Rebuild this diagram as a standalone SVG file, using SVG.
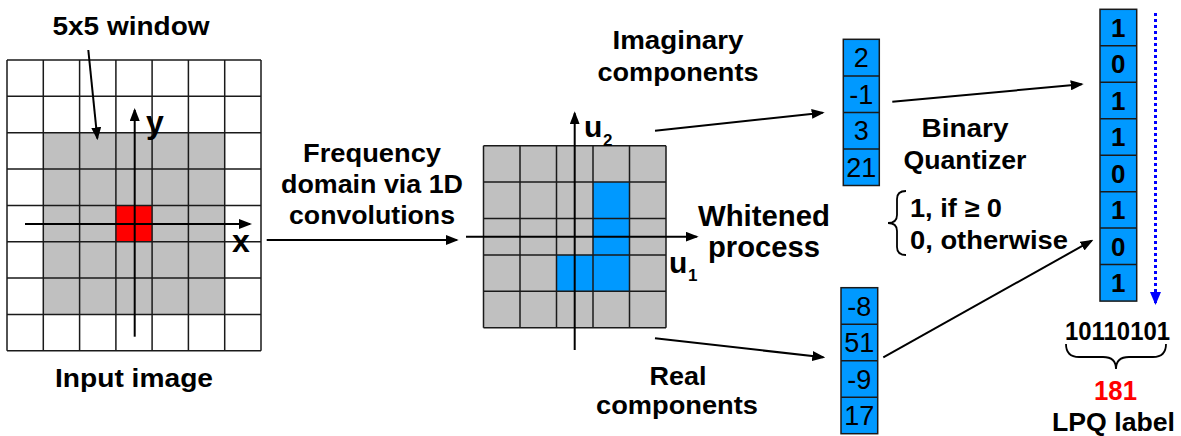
<svg xmlns="http://www.w3.org/2000/svg" width="1181" height="436" viewBox="0 0 1181 436">
<defs>
<style>
text{font-family:"Liberation Sans",Arial,sans-serif;fill:#000}
.b{font-weight:bold;font-size:26px;text-anchor:middle}
.bl{font-weight:bold;font-size:26px}
.big{font-weight:bold;font-size:29px;text-anchor:middle}
.ax{font-weight:bold;font-size:32px}
.num{font-size:27px;text-anchor:middle}
.bin{font-weight:bold;font-size:26px;text-anchor:middle}
.grid{fill:none;stroke:#1a1a1a;stroke-width:1.5}
.cell{fill:#0099FF;stroke:#1a1a1a;stroke-width:1.5}
.conn{fill:none;stroke:#000;stroke-width:2}
</style>
<marker id="ah" markerUnits="userSpaceOnUse" markerWidth="13" markerHeight="10" refX="11" refY="5" orient="auto">
<path d="M0,0 L13,5 L0,10 z" fill="#000"/>
</marker>
<marker id="ahb" markerUnits="userSpaceOnUse" markerWidth="13" markerHeight="11" refX="11" refY="5.5" orient="auto">
<path d="M0,0 L13,5.5 L0,11 z" fill="#0000FF"/>
</marker>
</defs>
<rect width="1181" height="436" fill="#fff"/>

<g id="input-image">
<rect x="7" y="60" width="254" height="290.7" fill="#fff"/>
<rect x="43.3" y="132.7" width="181.4" height="181.7" fill="#C0C0C0"/>
<rect x="115.9" y="205.4" width="36.2" height="36.3" fill="#FF0000"/>
<path class="grid" d="M7,60V350.7 M43.3,60V350.7 M79.6,60V350.7 M115.9,60V350.7 M152.1,60V350.7 M188.4,60V350.7 M224.7,60V350.7 M261,60V350.7 M7,60H261 M7,96.3H261 M7,132.7H261 M7,169H261 M7,205.4H261 M7,241.7H261 M7,278H261 M7,314.4H261 M7,350.7H261"/>
<text class="ax" x="146" y="133">y</text>
<text class="ax" x="232" y="252">x</text>
<text class="b" x="131" y="35" textLength="157" lengthAdjust="spacingAndGlyphs">5x5 window</text>
<text class="b" x="134" y="387" textLength="158" lengthAdjust="spacingAndGlyphs">Input image</text>
</g>

<g id="frequency-grid">
<rect x="483.5" y="145.7" width="182.5" height="182" fill="#C0C0C0"/>
<rect x="593" y="182.1" width="36.5" height="109.2" fill="#0099FF"/>
<rect x="556.5" y="254.9" width="36.5" height="36.4" fill="#0099FF"/>
<path class="grid" d="M483.5,145.7V327.7 M520,145.7V327.7 M556.5,145.7V327.7 M593,145.7V327.7 M629.5,145.7V327.7 M666,145.7V327.7 M483.5,145.7H666 M483.5,182.1H666 M483.5,218.5H666 M483.5,254.9H666 M483.5,291.3H666 M483.5,327.7H666"/>
<text class="ax" x="584" y="137" style="font-size:30px">u</text>
<text class="bl" x="603" y="146" style="font-size:17px">2</text>
<text class="ax" x="669" y="273" style="font-size:30px">u</text>
<text class="bl" x="688" y="281" style="font-size:17px">1</text>
</g>

<g id="freq-label">
<text class="b" x="372" y="162" textLength="138" lengthAdjust="spacingAndGlyphs">Frequency</text>
<text class="b" x="372" y="193" textLength="182" lengthAdjust="spacingAndGlyphs">domain via 1D</text>
<text class="b" x="372" y="223.5" textLength="166" lengthAdjust="spacingAndGlyphs">convolutions</text>
</g>

<g id="whitened-label">
<text class="big" x="764" y="226" textLength="132" lengthAdjust="spacingAndGlyphs">Whitened</text>
<text class="big" x="764" y="257" textLength="112" lengthAdjust="spacingAndGlyphs">process</text>
</g>

<g id="imag-label">
<text class="b" x="678" y="49" textLength="131" lengthAdjust="spacingAndGlyphs">Imaginary</text>
<text class="b" x="678" y="81" textLength="161" lengthAdjust="spacingAndGlyphs">components</text>
</g>

<g id="real-label">
<text class="b" x="678" y="385" textLength="57" lengthAdjust="spacingAndGlyphs">Real</text>
<text class="b" x="677" y="414" textLength="162" lengthAdjust="spacingAndGlyphs">components</text>
</g>

<g id="imag-column">
<rect class="cell" x="843.3" y="39.3" width="36" height="146.2"/>
<path class="grid" d="M843.3,76H879.3 M843.3,112.5H879.3 M843.3,149H879.3"/>
<text class="num" x="861.3" y="67">2</text>
<text class="num" x="861.3" y="103.5">-1</text>
<text class="num" x="861.3" y="140">3</text>
<text class="num" x="861.3" y="176.5">21</text>
</g>

<g id="real-column">
<rect class="cell" x="841" y="287.7" width="36.7" height="146"/>
<path class="grid" d="M841,324.2H877.7 M841,360.7H877.7 M841,397.2H877.7"/>
<text class="num" x="859.3" y="315.5">-8</text>
<text class="num" x="859.3" y="352">51</text>
<text class="num" x="859.3" y="388.5">-9</text>
<text class="num" x="859.3" y="425">17</text>
</g>

<g id="quantizer">
<text class="b" x="965" y="137" textLength="87" lengthAdjust="spacingAndGlyphs">Binary</text>
<text class="b" x="965" y="168.5" textLength="123" lengthAdjust="spacingAndGlyphs">Quantizer</text>
<path d="M906,191 Q897,191 897,199 L897,215 Q897,223 888,223 Q897,223 897,231 L897,247 Q897,255 906,255" fill="none" stroke="#000" stroke-width="1.8"/>
<text class="bl" x="910" y="217" textLength="92" lengthAdjust="spacingAndGlyphs">1, if ≥ 0</text>
<text class="bl" x="910" y="248.5" textLength="158" lengthAdjust="spacingAndGlyphs">0, otherwise</text>
</g>

<g id="binary-column">
<rect class="cell" x="1100" y="9.3" width="36.7" height="291.8"/>
<path class="grid" d="M1100,45.8H1136.7 M1100,82.2H1136.7 M1100,118.7H1136.7 M1100,155.2H1136.7 M1100,191.7H1136.7 M1100,228.1H1136.7 M1100,264.6H1136.7"/>
<text class="bin" x="1118.3" y="36.5">1</text>
<text class="bin" x="1118.3" y="73">0</text>
<text class="bin" x="1118.3" y="109.5">1</text>
<text class="bin" x="1118.3" y="146">1</text>
<text class="bin" x="1118.3" y="182.5">0</text>
<text class="bin" x="1118.3" y="219">1</text>
<text class="bin" x="1118.3" y="255.5">0</text>
<text class="bin" x="1118.3" y="292">1</text>
</g>

<g id="lpq-label">
<text class="bin" x="1117.5" y="340" textLength="105" lengthAdjust="spacingAndGlyphs">10110101</text>
<path d="M1066,344 Q1066,357 1079,357 L1103,357 Q1116,357 1116,369 Q1116,357 1129,357 L1153,357 Q1166,357 1166,344" fill="none" stroke="#000" stroke-width="1.8"/>
<text class="bin" x="1115.5" y="400" style="font-size:28px;fill:#FF0000" textLength="43" lengthAdjust="spacingAndGlyphs">181</text>
<text class="b" x="1113.5" y="431" textLength="123" lengthAdjust="spacingAndGlyphs">LPQ label</text>
</g>

<g id="connectors">
<line class="conn" x1="88.3" y1="50" x2="97.3" y2="138.3" marker-end="url(#ah)"/>
<line class="conn" x1="25" y1="224" x2="250" y2="224" marker-end="url(#ah)"/>
<line class="conn" x1="134.7" y1="336.7" x2="134.7" y2="110" marker-end="url(#ah)"/>
<line class="conn" x1="266.7" y1="240" x2="456.7" y2="240" marker-end="url(#ah)"/>
<line class="conn" x1="466" y1="236.7" x2="696.7" y2="236.7" marker-end="url(#ah)"/>
<line class="conn" x1="574.7" y1="350" x2="574.7" y2="113.3" marker-end="url(#ah)"/>
<line class="conn" x1="655" y1="130.7" x2="822.7" y2="112.7" marker-end="url(#ah)"/>
<line class="conn" x1="655" y1="338.3" x2="823.3" y2="357.3" marker-end="url(#ah)"/>
<line class="conn" x1="892.3" y1="101.7" x2="1081.7" y2="84.3" marker-end="url(#ah)"/>
<line class="conn" x1="883.3" y1="357.3" x2="1091.7" y2="240.7" marker-end="url(#ah)"/>
<line x1="1155.5" y1="13" x2="1155.5" y2="303" stroke="#0000FF" stroke-width="3" stroke-dasharray="3,3" marker-end="url(#ahb)"/>
</g>
</svg>
